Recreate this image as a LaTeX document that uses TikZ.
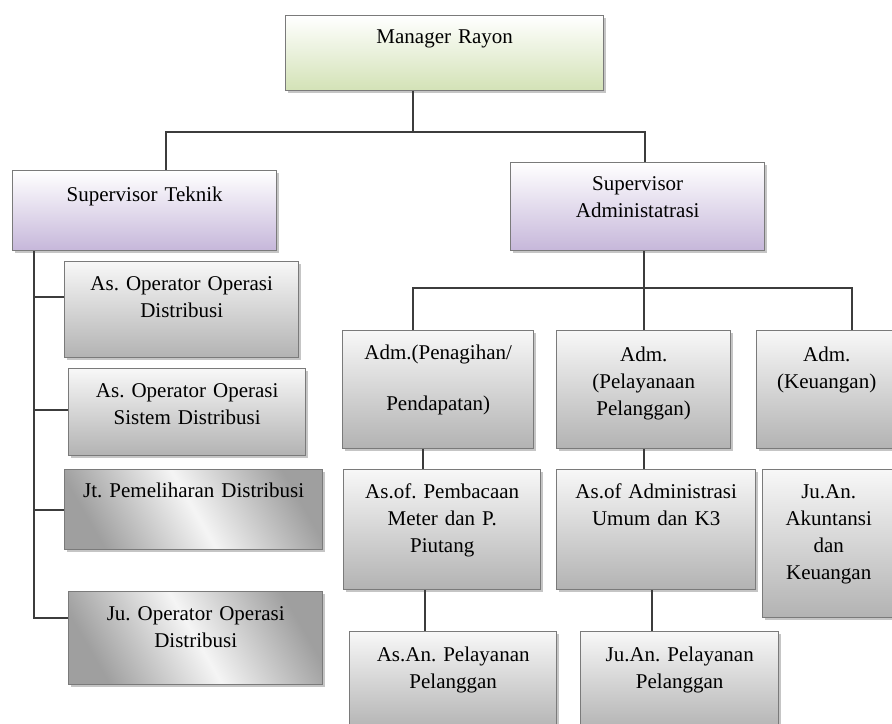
\documentclass[tikz,border=0pt]{standalone}
\usepackage{fontspec}
\setmainfont{Liberation Serif}
\usepackage{xcolor}
\usepackage{tikz}
\usetikzlibrary{shadows,calc}
\frenchspacing

\definecolor{mgrgreen}{HTML}{D3E2B6}
\definecolor{suplav}{HTML}{C6B7DA}
\definecolor{linegray}{HTML}{3C3C3C}
\definecolor{edgegray}{HTML}{7A7A7A}

\begin{document}
\begin{tikzpicture}[x=0.5pt, y=-0.5pt,
  orgbox/.style={draw=edgegray, line width=0.7pt, anchor=north west, align=center,
    inner sep=0pt, text height=14.5pt, font=\fontsize{10.5pt}{13.5pt}\selectfont,
    drop shadow={shadow xshift=1pt, shadow yshift=-1.2pt, opacity=0.45}},
  greenbox/.style={orgbox, top color=white, bottom color=mgrgreen},
  purplebox/.style={orgbox, top color=white, bottom color=suplav},
  graybox/.style={orgbox, top color=gray!6, bottom color=gray!60},
  darkbox/.style={orgbox, top color=gray!75, bottom color=gray!75, middle color=gray!8, shading angle=-60},
  conn/.style={draw=linegray, line width=1pt}]

% page
\fill[white] (0,0) rectangle (892,723);
\useasboundingbox (0,0) rectangle (892,723);

% Top
\node[greenbox, text width=159pt, text height=14pt, text depth=23.5pt] (mgr) at (285,15) {Manager Rayon};

% Supervisors
\node[purplebox, text width=132pt, text height=15.5pt, text depth=24.5pt] (st) at (12,170) {Supervisor Teknik};
\node[purplebox, text width=127pt, text height=14pt, text depth=30pt] (sa) at (510,162) {Supervisor\\Administatrasi};

% Teknik side
\node[graybox, text width=117pt, text depth=33.5pt] (aood) at (64,261) {As. Operator Operasi\\Distribusi};
\node[graybox, text width=118.5pt, text depth=29pt] (aoosd) at (68,368) {As. Operator Operasi\\Sistem Distribusi};
\node[darkbox, text width=129pt, text height=14pt, text depth=26pt] (jtpd) at (64,469) {Jt. Pemeliharan Distribusi};
\node[darkbox, text width=127pt, text depth=32pt] (jood) at (68,591) {Ju. Operator Operasi\\Distribusi};

% Administrasi side
\node[graybox, text width=95.5pt, text depth=44.5pt] (pen) at (342,330) {Adm.(Penagihan/\\[12pt]Pendapatan)};
\node[graybox, text width=87pt, text height=15.5pt, text depth=43.5pt] (pel) at (556,330) {Adm.\\(Pelayanaan\\Pelanggan)};
\node[graybox, text width=70pt, text height=15.5pt, text depth=43.5pt] (keu) at (756,330) {Adm.\\(Keuangan)};
\node[graybox, text width=98.5pt, text depth=45.5pt] (pem) at (343,469) {As.of. Pembacaan\\Meter dan P.\\Piutang};
\node[graybox, text width=99.5pt, text depth=45.5pt] (aoa) at (556,469) {As.of Administrasi\\Umum dan K3};
\node[graybox, text width=66pt, text depth=59.5pt] (akun) at (762,469) {Ju.An.\\Akuntansi\\dan\\Keuangan};
\node[graybox, text width=103.5pt, text height=15pt, text depth=34.5pt] (asan) at (349,631) {As.An. Pelayanan\\Pelanggan};
\node[graybox, text width=99pt, text height=15pt, text depth=34.5pt] (jap) at (580,631) {Ju.An. Pelayanan\\Pelanggan};

% Lines from manager
\coordinate (topl) at (166,132);
\coordinate (topm) at (413,132);
\coordinate (topr) at (645,132);
\draw[conn] (mgr.south -| topm) -- (topm);
\draw[conn] (st.north -| topl) -- (topl) -- (topr) -- (sa.north -| topr);

% Teknik spine
\coordinate (t1) at (34,297);
\coordinate (t2) at (34,410);
\coordinate (t3) at (34,510);
\coordinate (spine) at (34,618);
\draw[conn] (st.south -| spine) -- (spine) -- (jood.west |- spine);
\draw[conn] (t1) -- (aood.west |- t1);
\draw[conn] (t2) -- (aoosd.west |- t2);
\draw[conn] (t3) -- (jtpd.west |- t3);

% Administrasi bus
\coordinate (midl) at (413,288);
\coordinate (midm) at (644,288);
\coordinate (midr) at (852,288);
\draw[conn] (sa.south -| midm) -- (midm) -- (pel.north -| midm);
\draw[conn] (pen.north -| midl) -- (midl) -- (midr) -- (keu.north -| midr);

% Downwards
\coordinate (v1) at (423,0);
\coordinate (v2) at (425,0);
\coordinate (v3) at (644,0);
\coordinate (v4) at (652,0);
\draw[conn] (pen.south -| v1) -- (pem.north -| v1);
\draw[conn] (pem.south -| v2) -- (asan.north -| v2);
\draw[conn] (pel.south -| v3) -- (aoa.north -| v3);
\draw[conn] (aoa.south -| v4) -- (jap.north -| v4);

\end{tikzpicture}
\end{document}
